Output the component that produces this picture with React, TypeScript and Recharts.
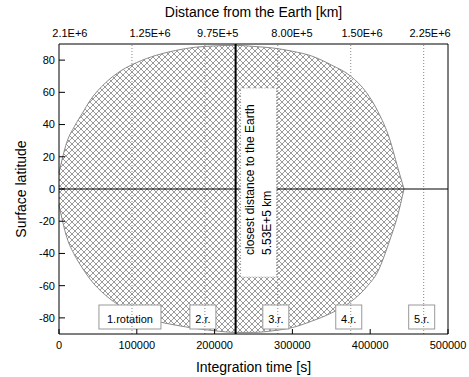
import React from "react";
import { AreaChart, Area, XAxis, YAxis, ReferenceLine } from "recharts";

// integration time [s] and the latitude band seen at each time
const times = [
  0, 10000, 20000, 30000, 40000, 60000, 80000, 100000, 125000, 150000, 175000,
  200000, 227000, 250000, 275000, 300000, 325000, 350000, 375000, 395000,
  410000, 425000, 435000, 443500,
];
const upperLat = [
  10, 29, 39, 47, 55, 66, 73.5, 78.5, 83, 86, 88, 88.8, 89.2, 88.5, 87.5, 85.5,
  82.5, 77, 70, 60, 48, 31, 14, 0,
];
const lowerLat = [
  -10, -30, -41, -49, -56, -66, -73, -78, -82, -84.5, -86.5, -88, -89, -89,
  -88, -86, -82, -77, -70, -61, -51, -32, -17, 0,
];

const timeTicks = [0, 100000, 200000, 300000, 400000, 500000];
const latTicks = [-80, -60, -40, -20, 0, 20, 40, 60, 80];
const distanceTicks = [14000, 117000, 204000, 299500, 389500, 477000];
const distanceLabels = ["2.1E+6", "1.25E+6", "9.75E+5", "8.00E+5", "1.50E+6", "2.25E+6"];
const rotationTimes = [93750, 187500, 281250, 375000, 468750];
const rotationLabels = ["1.rotation", "2.r.", "3.r.", "4.r.", "5.r."];
const closestTime = 227000;
const closestLines = ["closest distance to the Earth", "5.53E+5 km"];

const data = times.map((t, i) => ({ t, lat: [lowerLat[i], upperLat[i]] }));

function RotationBox({ viewBox, text }: any) {
  const { x, y, height } = viewBox;
  const w = text.length * 6 + 2;
  const bottom = y + height;
  return (
    <g>
      <rect x={x - 2 - w / 2} y={bottom - 29} width={w} height={24} fill="#fff" stroke="#999" />
      <text x={x - 2} y={bottom - 11} textAnchor="middle" fontSize={11} fill="#000">
        {text}
      </text>
      <line x1={x} x2={x} y1={bottom - 29} y2={bottom - 5} stroke="#888" strokeDasharray="1 2" />
    </g>
  );
}

function ClosestBox({ viewBox }: any) {
  const { x, y } = viewBox;
  return (
    <g>
      <rect x={x + 5} y={y + 44} width={36} height={189} fill="#fff" stroke="#999" strokeDasharray="1 2" />
      {closestLines.map((line, i) => {
        const tx = x + 18 + i * 17;
        const ty = y + 211;
        return (
          <text key={i} x={tx} y={ty} transform={`rotate(-90, ${tx}, ${ty})`} fontSize={12} fill="#000">
            {line}
          </text>
        );
      })}
    </g>
  );
}

function DistanceLabel({ viewBox, text }: any) {
  const { x, y } = viewBox;
  return (
    <text x={x} y={y - 7} textAnchor="middle" fontSize={11} fill="#000">
      {text}
    </text>
  );
}

export default function App() {
  return (
    <div
      style={{
        position: "absolute",
        left: 0,
        top: 0,
        fontFamily: "'Liberation Sans', Arial, sans-serif",
        background: "#fff",
      }}
    >
      <AreaChart width={469} height={377} data={data} margin={{ top: 0, right: 0, bottom: 0, left: 0 }}>
        <defs>
          <pattern id="hatch" patternUnits="userSpaceOnUse" width={6} height={6}>
            <path d="M0,0 L6,6 M6,0 L0,6" stroke="#6e6e6e" strokeWidth={0.7} />
          </pattern>
        </defs>
        <XAxis
          dataKey="t"
          type="number"
          domain={[0, 500000]}
          ticks={timeTicks}
          interval={0}
          height={43}
          tickSize={-5}
          tickMargin={12}
          axisLine={{ stroke: "#000" }}
          tickLine={{ stroke: "#000" }}
          tick={{ fill: "#000", fontSize: 11 }}
          label={{ value: "Integration time [s]", position: "insideBottom", offset: 5, fontSize: 14, fill: "#000" }}
        />
        <XAxis
          xAxisId="top"
          orientation="top"
          type="number"
          domain={[0, 500000]}
          height={44}
          tick={false}
          tickLine={false}
          axisLine={{ stroke: "#000" }}
          label={{ value: "Distance from the Earth [km]", position: "insideTop", offset: 7, fontSize: 14, fill: "#000" }}
        />
        <YAxis
          type="number"
          domain={[-90, 90]}
          ticks={latTicks}
          interval={0}
          width={59}
          tickSize={-6}
          tickMargin={10}
          axisLine={{ stroke: "#000" }}
          tickLine={{ stroke: "#000" }}
          tick={{ fill: "#000", fontSize: 11 }}
          label={{
            value: "Surface latitude",
            angle: -90,
            position: "insideLeft",
            offset: 21,
            fontSize: 14,
            fill: "#000",
            style: { textAnchor: "middle" },
          }}
        />
        <YAxis
          yAxisId="right"
          orientation="right"
          type="number"
          domain={[-90, 90]}
          ticks={latTicks}
          interval={0}
          width={21}
          tickSize={-6}
          tick={false}
          axisLine={{ stroke: "#000" }}
          tickLine={{ stroke: "#000" }}
        />
        <Area
          dataKey="lat"
          type="monotone"
          fill="url(#hatch)"
          fillOpacity={1}
          stroke="#8a8a8a"
          strokeWidth={1}
          isAnimationActive={false}
        />
        {rotationTimes.map((t) => (
          <ReferenceLine key={`d${t}`} x={t} stroke="#888" strokeDasharray="1 2" />
        ))}
        <ReferenceLine y={0} stroke="#000" strokeWidth={1} />
        <ReferenceLine x={closestTime} stroke="#000" strokeWidth={2} label={(p: any) => <ClosestBox {...p} />} />
        {rotationTimes.map((t, i) => (
          <ReferenceLine
            key={`b${t}`}
            x={t}
            stroke="none"
            label={(p: any) => <RotationBox {...p} text={rotationLabels[i]} />}
          />
        ))}
        {distanceTicks.map((t, i) => (
          <ReferenceLine
            key={`k${t}`}
            x={t}
            stroke="none"
            label={(p: any) => <DistanceLabel {...p} text={distanceLabels[i]} />}
          />
        ))}
      </AreaChart>
    </div>
  );
}
